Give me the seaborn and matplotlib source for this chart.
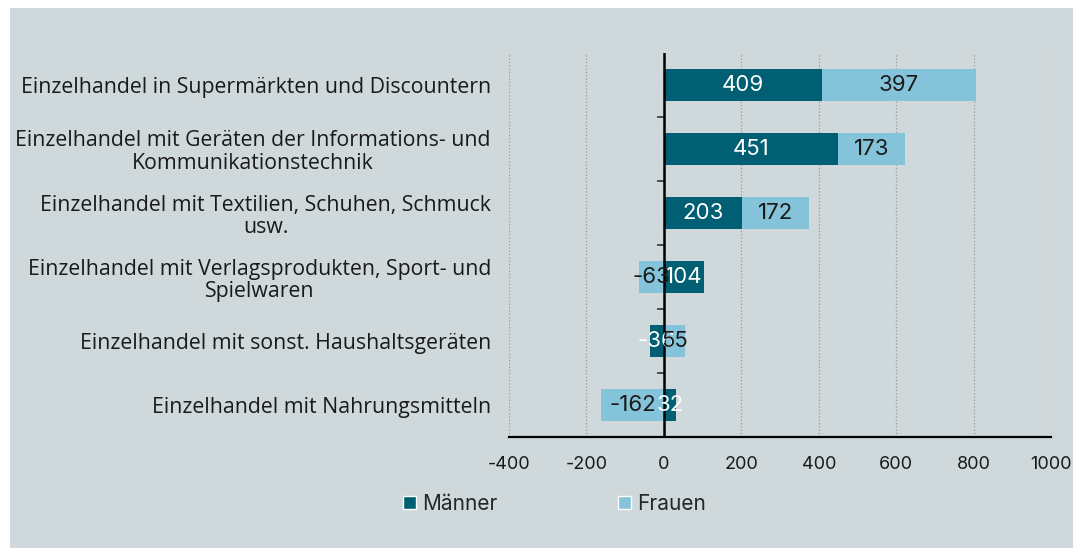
import matplotlib
matplotlib.use('Agg')
import matplotlib.pyplot as plt
from matplotlib.patches import Patch, Rectangle
import numpy as np
import pandas as pd
import seaborn as sns

# data
categories = [
    'Einzelhandel in Supermärkten und Discountern',
    'Einzelhandel mit Geräten der Informations- und\nKommunikationstechnik',
    'Einzelhandel mit Textilien, Schuhen, Schmuck\nusw.',
    'Einzelhandel mit Verlagsprodukten, Sport- und\nSpielwaren',
    'Einzelhandel mit sonst. Haushaltsgeräten',
    'Einzelhandel mit Nahrungsmitteln',
]
maenner = [409, 451, 203, 104, -36, 32]
frauen = [397, 173, 172, -63, 55, -162]

col_m = '#005F72'
col_f = '#85C3DA'
bg = '#CFD8DA'

sns.set_style('white')
plt.rcParams['font.family'] = ['Inter', 'DejaVu Sans']
plt.rcParams['axes.unicode_minus'] = False

df = pd.DataFrame({'cat': categories, 'm': maenner, 'f': frauen})
# frauen stack on top of maenner only when both have the same sign
same = np.sign(df['m']) == np.sign(df['f'])
df['f_end'] = np.where(same, df['m'] + df['f'], df['f'])
df['f_start'] = np.where(same, df['m'], 0)

fig = plt.figure(figsize=(10.73, 5.48), dpi=100)
fig.patches.append(Rectangle((10 / 1073, 0), 1, 1 - 8 / 548, transform=fig.transFigure,
                             facecolor=bg, edgecolor='none', zorder=-10))
ax = fig.add_axes([509 / 1073, 1 - 437 / 548, 542 / 1073, 384 / 548])
ax.set_facecolor('none')

sns.barplot(data=df, y='cat', x='f_end', color=col_f, width=0.5, linewidth=0,
            saturation=1, orient='h', ax=ax, zorder=2)
sns.barplot(data=df, y='cat', x='m', color=col_m, width=0.5, linewidth=0,
            saturation=1, orient='h', ax=ax, zorder=3)

ax.set_xlim(-400, 1000)
ax.set_xticks(range(-400, 1001, 200))
ax.set_xlabel('')
ax.set_ylabel('')
ax.xaxis.grid(True, linestyle=':', color='#9a9a9a', linewidth=0.9, zorder=0)
ax.set_axisbelow(True)

for s in ['top', 'right', 'left']:
    ax.spines[s].set_visible(False)
ax.spines['bottom'].set_color('black')
ax.spines['bottom'].set_linewidth(1.6)
ax.axvline(0, color='black', linewidth=1.8, zorder=5)

ax.tick_params(axis='x', direction='out', length=6, width=1.2, color='black',
               labelsize=13, pad=8, labelcolor='#1a1a1a')
ax.tick_params(axis='y', length=0, pad=13)
for lab in ax.get_yticklabels():
    lab.set_fontsize(15.3)
    lab.set_family(['Open Sans', 'DejaVu Sans'])
    lab.set_multialignment('center')
    lab.set_color('#1a1a1a')
    lab.set_linespacing(1.1)

# small boundary ticks on the zero axis
sec = ax.secondary_yaxis(400 / 1400)
sec.set_yticks(np.arange(0.5, len(categories) - 1, 1.0))
sec.set_yticklabels([])
sec.tick_params(length=5, width=1.2, color='#333333')
sec.spines['left'].set_visible(False)

# value labels centered in each segment
for i, row in df.iterrows():
    ax.text(row['m'] / 2, i, f"{row['m']}", ha='center', va='center',
            color='white', fontsize=16, zorder=6)
    ax.text((row['f_start'] + row['f_end']) / 2, i, f"{row['f']}", ha='center',
            va='center', color='#1a1a1a', fontsize=16, zorder=6)

handles = [Patch(facecolor=col_m, label='Männer'), Patch(facecolor=col_f, label='Frauen')]
fig.legend(handles=handles, loc='center', bbox_to_anchor=(0.517, 0.08), ncol=2,
           frameon=False, fontsize=15, handlelength=0.6, handleheight=0.6,
           handletextpad=0.3, columnspacing=5.8)

plt.savefig('out.png', dpi=100)
